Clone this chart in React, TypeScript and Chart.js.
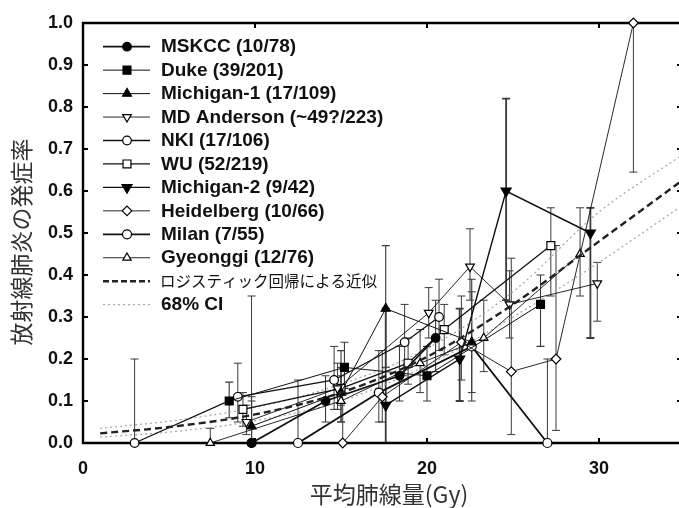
import React, { useEffect, useRef } from 'react';
import { Chart, registerables } from 'chart.js';

Chart.register(...registerables);

// ---- tick labels ----
const xTicks = [0, 10, 20, 30];
const yTicks = [0, 0.1, 0.2, 0.3, 0.4, 0.5, 0.6, 0.7, 0.8, 0.9, 1.0];

// ---- series (x = mean lung dose, y = incidence, lo/hi = error bar) ----
const mskccX = [9.8, 14.1, 18.4, 20.5];
const mskccY = [0.0, 0.10, 0.16, 0.25];
const mskccLo = [0.0, 0.05, 0.10, 0.17];
const mskccHi = [0.10, 0.16, 0.23, 0.34];

const dukeX = [8.5, 15.2, 20.0, 26.6];
const dukeY = [0.10, 0.18, 0.16, 0.33];
const dukeLo = [0.06, 0.13, 0.10, 0.23];
const dukeHi = [0.145, 0.24, 0.23, 0.40];

const mich1X = [9.8, 15.0, 17.6, 22.6];
const mich1Y = [0.04, 0.12, 0.32, 0.24];
const mich1Lo = [0.0, 0.05, 0.18, 0.10];
const mich1Hi = [0.11, 0.22, 0.47, 0.39];

const mdaX = [9.5, 14.8, 20.1, 22.5, 24.8, 29.9];
const mdaY = [0.05, 0.13, 0.31, 0.42, 0.33, 0.38];
const mdaLo = [0.02, 0.08, 0.25, 0.34, 0.25, 0.29];
const mdaHi = [0.09, 0.19, 0.37, 0.51, 0.41, 0.43];

const nkiX = [3.0, 9.0, 14.6, 18.7, 20.7];
const nkiY = [0.0, 0.11, 0.15, 0.24, 0.30];
const nkiLo = [0.0, 0.05, 0.08, 0.16, 0.22];
const nkiHi = [0.20, 0.19, 0.23, 0.33, 0.39];

const wuX = [9.3, 15.0, 18.9, 21.0, 27.2];
const wuY = [0.08, 0.13, 0.19, 0.27, 0.47];
const wuLo = [0.04, 0.09, 0.14, 0.21, 0.35];
const wuHi = [0.12, 0.18, 0.25, 0.33, 0.56];

const mich2X = [17.6, 21.9, 24.6, 29.5];
const mich2Y = [0.09, 0.20, 0.60, 0.50];
const mich2Lo = [0.0, 0.10, 0.34, 0.25];
const mich2Hi = [0.32, 0.32, 0.82, 0.56];

const heidX = [15.1, 17.4, 22.0, 24.9, 27.5, 32.0];
const heidY = [0.0, 0.11, 0.24, 0.17, 0.20, 1.0];
const heidLo = [0.0, 0.05, 0.15, 0.02, 0.03, 0.645];
const heidHi = [0.12, 0.22, 0.35, 0.44, 0.47, 1.0];

const milanX = [9.8, 12.5, 17.2, 22.6, 27.0];
const milanY = [0.0, 0.0, 0.12, 0.23, 0.0];
const milanLo = [0.0, 0.0, 0.05, 0.12, 0.0];
const milanHi = [0.35, 0.15, 0.22, 0.36, 0.20];

const gyeoX = [7.4, 15.0, 19.6, 23.3, 28.9];
const gyeoY = [0.0, 0.10, 0.19, 0.25, 0.45];
const gyeoLo = [0.0, 0.05, 0.12, 0.17, 0.35];
const gyeoHi = [0.035, 0.16, 0.27, 0.34, 0.56];

// ---- logistic fit and 68% CI ----
const fitX = [1, 5, 10, 15, 20, 25, 30, 35];
const fitY = [0.023, 0.038, 0.068, 0.12, 0.205, 0.33, 0.48, 0.63];
const ciUpperY = [0.035, 0.052, 0.085, 0.14, 0.225, 0.36, 0.55, 0.69];
const ciLowerY = [0.014, 0.026, 0.053, 0.10, 0.185, 0.30, 0.43, 0.57];

const fitLabel = 'ロジスティック回帰による近似';
const ciLabel = '68% CI';
const xTitle = '平均肺線量(Gy)';
const yTitle = '放射線肺炎の発症率';

type Series = {
  label: string; x: number[]; y: number[]; lo: number[]; hi: number[];
  style: string; rot: number; fill: boolean; lw: number; r: number; barW: number;
};

const LATIN = '"Liberation Sans", Arial, Helvetica, sans-serif';
const CJK = '"Noto Sans CJK JP", "Noto Sans", sans-serif';

function drawMarker(ctx: CanvasRenderingContext2D, s: Series, x: number, y: number) {
  const r = s.r;
  ctx.beginPath();
  if (s.style === 'circle') {
    ctx.arc(x, y, r, 0, Math.PI * 2);
  } else if (s.style === 'rect') {
    const h = r * Math.SQRT1_2;
    ctx.rect(x - h, y - h, 2 * h, 2 * h);
  } else if (s.style === 'triangle') {
    const dir = s.rot ? -1 : 1;
    for (let k = 0; k < 3; k++) {
      const a = -Math.PI / 2 + (k * 2 * Math.PI) / 3;
      const px = x + Math.cos(a) * r;
      const py = y + dir * Math.sin(a) * r;
      if (k === 0) ctx.moveTo(px, py); else ctx.lineTo(px, py);
    }
    ctx.closePath();
  } else if (s.style === 'rectRot') {
    ctx.moveTo(x, y - r); ctx.lineTo(x + r, y); ctx.lineTo(x, y + r); ctx.lineTo(x - r, y);
    ctx.closePath();
  }
  ctx.fillStyle = s.fill ? '#000' : '#fff';
  ctx.fill();
  ctx.lineWidth = 1.2;
  ctx.strokeStyle = '#000';
  ctx.stroke();
}

export default function App() {
  const ref = useRef<HTMLCanvasElement>(null);

  useEffect(() => {
    const canvas = ref.current!;
    const series: Series[] = [
      { label: 'MSKCC (10/78)', x: mskccX, y: mskccY, lo: mskccLo, hi: mskccHi, style: 'circle', rot: 0, fill: true, lw: 1.8, r: 4.3, barW: 1.1 },
      { label: 'Duke (39/201)', x: dukeX, y: dukeY, lo: dukeLo, hi: dukeHi, style: 'rect', rot: 0, fill: true, lw: 1.0, r: 5.6, barW: 1.1 },
      { label: 'Michigan-1 (17/109)', x: mich1X, y: mich1Y, lo: mich1Lo, hi: mich1Hi, style: 'triangle', rot: 0, fill: true, lw: 1.0, r: 5.2, barW: 1.1 },
      { label: 'MD Anderson (~49?/223)', x: mdaX, y: mdaY, lo: mdaLo, hi: mdaHi, style: 'triangle', rot: 180, fill: false, lw: 0.9, r: 5.0, barW: 1.0 },
      { label: 'NKI (17/106)', x: nkiX, y: nkiY, lo: nkiLo, hi: nkiHi, style: 'circle', rot: 0, fill: false, lw: 1.3, r: 4.3, barW: 1.0 },
      { label: 'WU (52/219)', x: wuX, y: wuY, lo: wuLo, hi: wuHi, style: 'rect', rot: 0, fill: false, lw: 1.3, r: 5.6, barW: 1.0 },
      { label: 'Michigan-2 (9/42)', x: mich2X, y: mich2Y, lo: mich2Lo, hi: mich2Hi, style: 'triangle', rot: 180, fill: true, lw: 1.4, r: 5.8, barW: 1.8 },
      { label: 'Heidelberg (10/66)', x: heidX, y: heidY, lo: heidLo, hi: heidHi, style: 'rectRot', rot: 0, fill: false, lw: 0.9, r: 4.8, barW: 1.0 },
      { label: 'Milan (7/55)', x: milanX, y: milanY, lo: milanLo, hi: milanHi, style: 'circle', rot: 0, fill: false, lw: 1.8, r: 4.5, barW: 1.0 },
      { label: 'Gyeonggi (12/76)', x: gyeoX, y: gyeoY, lo: gyeoLo, hi: gyeoHi, style: 'triangle', rot: 0, fill: false, lw: 0.9, r: 4.8, barW: 1.0 },
    ];

    const dataDatasets = series.map((s) => ({
      label: s.label,
      data: s.x.map((x, i) => ({ x, y: s.y[i] })),
      showLine: true,
      borderColor: '#111',
      borderWidth: s.lw,
      pointStyle: s.style,
      pointRotation: s.rot,
      pointRadius: s.r,
      pointHoverRadius: s.r,
      pointBackgroundColor: s.fill ? '#000' : '#fff',
      pointBorderColor: '#000',
      pointBorderWidth: 1.2,
      tension: 0,
      clip: false as any,
    }));

    const fitDataset = {
      label: fitLabel,
      data: fitX.map((x, i) => ({ x, y: fitY[i] })),
      showLine: true,
      borderColor: '#222',
      borderWidth: 2.4,
      borderDash: [7, 4],
      pointRadius: 0,
      cubicInterpolationMode: 'monotone' as const,
      clip: false as any,
    };
    const ciUp = {
      label: ciLabel,
      data: fitX.map((x, i) => ({ x, y: ciUpperY[i] })),
      showLine: true,
      borderColor: '#aaa',
      borderWidth: 1.3,
      borderDash: [2, 3],
      pointRadius: 0,
      cubicInterpolationMode: 'monotone' as const,
    };
    const ciLo = {
      label: ciLabel + ' lower',
      data: fitX.map((x, i) => ({ x, y: ciLowerY[i] })),
      showLine: true,
      borderColor: '#aaa',
      borderWidth: 1.3,
      borderDash: [2, 3],
      pointRadius: 0,
      cubicInterpolationMode: 'monotone' as const,
    };

    const framePlugin = {
      id: 'frame',
      beforeDatasetsDraw(chart: any) {
        const { ctx, chartArea: a, scales } = chart;
        const xs = scales.x, ys = scales.y;
        ctx.save();
        series.forEach((s) => {
          ctx.strokeStyle = '#3a3a3a';
          ctx.lineWidth = s.barW;
          s.x.forEach((xv, i) => {
            const px = xs.getPixelForValue(xv);
            const pTop = ys.getPixelForValue(s.hi[i]);
            const pBot = ys.getPixelForValue(s.lo[i]);
            if (Math.abs(pBot - pTop) < 0.5) return;
            ctx.beginPath();
            ctx.moveTo(px, pTop); ctx.lineTo(px, pBot);
            if (s.hi[i] > s.y[i]) { ctx.moveTo(px - 4, pTop); ctx.lineTo(px + 4, pTop); }
            if (s.lo[i] < s.y[i] && s.lo[i] > 0) { ctx.moveTo(px - 4, pBot); ctx.lineTo(px + 4, pBot); }
            ctx.stroke();
          });
        });
        ctx.strokeStyle = '#000';
        ctx.lineWidth = 2.4;
        ctx.beginPath();
        ctx.moveTo(a.left, a.top); ctx.lineTo(a.right, a.top);
        ctx.moveTo(a.left, a.bottom); ctx.lineTo(a.right, a.bottom);
        ctx.moveTo(a.left, a.top - 1.2); ctx.lineTo(a.left, a.bottom + 1.2);
        ctx.moveTo(a.right, a.top - 1.2); ctx.lineTo(a.right, a.bottom + 1.2);
        ctx.stroke();
        ctx.lineWidth = 2;
        ctx.beginPath();
        yTicks.forEach((v) => {
          const py = ys.getPixelForValue(v);
          ctx.moveTo(a.left, py); ctx.lineTo(a.left + 5, py);
          ctx.moveTo(a.right, py); ctx.lineTo(a.right - 8, py);
        });
        xTicks.forEach((v) => {
          const px = xs.getPixelForValue(v);
          ctx.moveTo(px, a.bottom); ctx.lineTo(px, a.bottom - 5);
          ctx.moveTo(px, a.top); ctx.lineTo(px, a.top + 5);
        });
        ctx.stroke();
        ctx.restore();
      },
      afterDraw(chart: any) {
        const { ctx } = chart;
        ctx.save();
        const y0 = 46.7, dy = 23.45, lx0 = 103, lx1 = 150, mx = 127, tx = 161;
        series.forEach((s, i) => {
          const y = y0 + i * dy;
          ctx.strokeStyle = '#111';
          ctx.lineWidth = s.lw;
          ctx.setLineDash([]);
          ctx.beginPath(); ctx.moveTo(lx0, y); ctx.lineTo(lx1, y); ctx.stroke();
          drawMarker(ctx, s, mx, y);
          ctx.fillStyle = '#111';
          ctx.font = `bold 19px ${LATIN}`;
          ctx.textAlign = 'left';
          ctx.textBaseline = 'middle';
          ctx.fillText(s.label, tx, y + 0.5);
        });
        let y = y0 + 10 * dy;
        ctx.strokeStyle = '#222'; ctx.lineWidth = 2.4; ctx.setLineDash([6, 3]);
        ctx.beginPath(); ctx.moveTo(lx0, y); ctx.lineTo(lx1, y); ctx.stroke();
        ctx.setLineDash([]);
        ctx.fillStyle = '#111';
        ctx.font = `15.5px ${CJK}`;
        ctx.fillText(fitLabel, tx - 1, y);
        y = y0 + 11 * dy;
        ctx.strokeStyle = '#aaa'; ctx.lineWidth = 1.3; ctx.setLineDash([2, 3]);
        ctx.beginPath(); ctx.moveTo(lx0, y); ctx.lineTo(lx1, y); ctx.stroke();
        ctx.setLineDash([]);
        ctx.font = `bold 19px ${LATIN}`;
        ctx.fillText(ciLabel, tx, y + 0.5);
        ctx.fillStyle = '#333';
        ctx.font = `23px ${CJK}`;
        ctx.textAlign = 'center';
        ctx.textBaseline = 'middle';
        ctx.fillText(xTitle, 389, 494);
        ctx.translate(21, 242);
        ctx.rotate(-Math.PI / 2);
        ctx.font = `23px ${CJK}`;
        ctx.fillText(yTitle, 0, 0);
        ctx.restore();
      },
    };

    const tickFont = { family: LATIN, size: 18, weight: 'bold' as const };

    const chart = new Chart(canvas, {
      type: 'scatter',
      data: { datasets: [fitDataset as any, ...dataDatasets, ciUp, ciLo] },
      options: {
        animation: false,
        responsive: false,
        devicePixelRatio: 1,
        events: [],
        layout: { padding: { left: 0, top: 23, right: 15, bottom: 0 } },
        plugins: { legend: { display: false }, tooltip: { enabled: false } },
        scales: {
          x: {
            type: 'linear', min: 0, max: 35,
            grid: { display: false, drawTicks: false },
            border: { display: false },
            ticks: { font: tickFont, color: '#111', padding: 15, maxRotation: 0 },
            afterBuildTicks: (s: any) => { s.ticks = xTicks.map((v) => ({ value: v })); },
            afterFit: (s: any) => { s.height = 65; },
          },
          y: {
            type: 'linear', min: 0, max: 1,
            grid: { display: false, drawTicks: false },
            border: { display: false },
            ticks: { font: tickFont, color: '#111', padding: 10, callback: (v: any) => Number(v).toFixed(1) },
            afterBuildTicks: (s: any) => { s.ticks = yTicks.map((v) => ({ value: v })); },
            afterFit: (s: any) => { s.width = 83; },
          },
        },
      },
      plugins: [framePlugin],
    });
    return () => chart.destroy();
  }, []);

  return (
    <div style={{ position: 'absolute', left: 0, top: 0, width: 679, height: 508, overflow: 'hidden', background: '#fff' }}>
      <canvas ref={ref} width={700} height={508} style={{ display: 'block' }} />
    </div>
  );
}
